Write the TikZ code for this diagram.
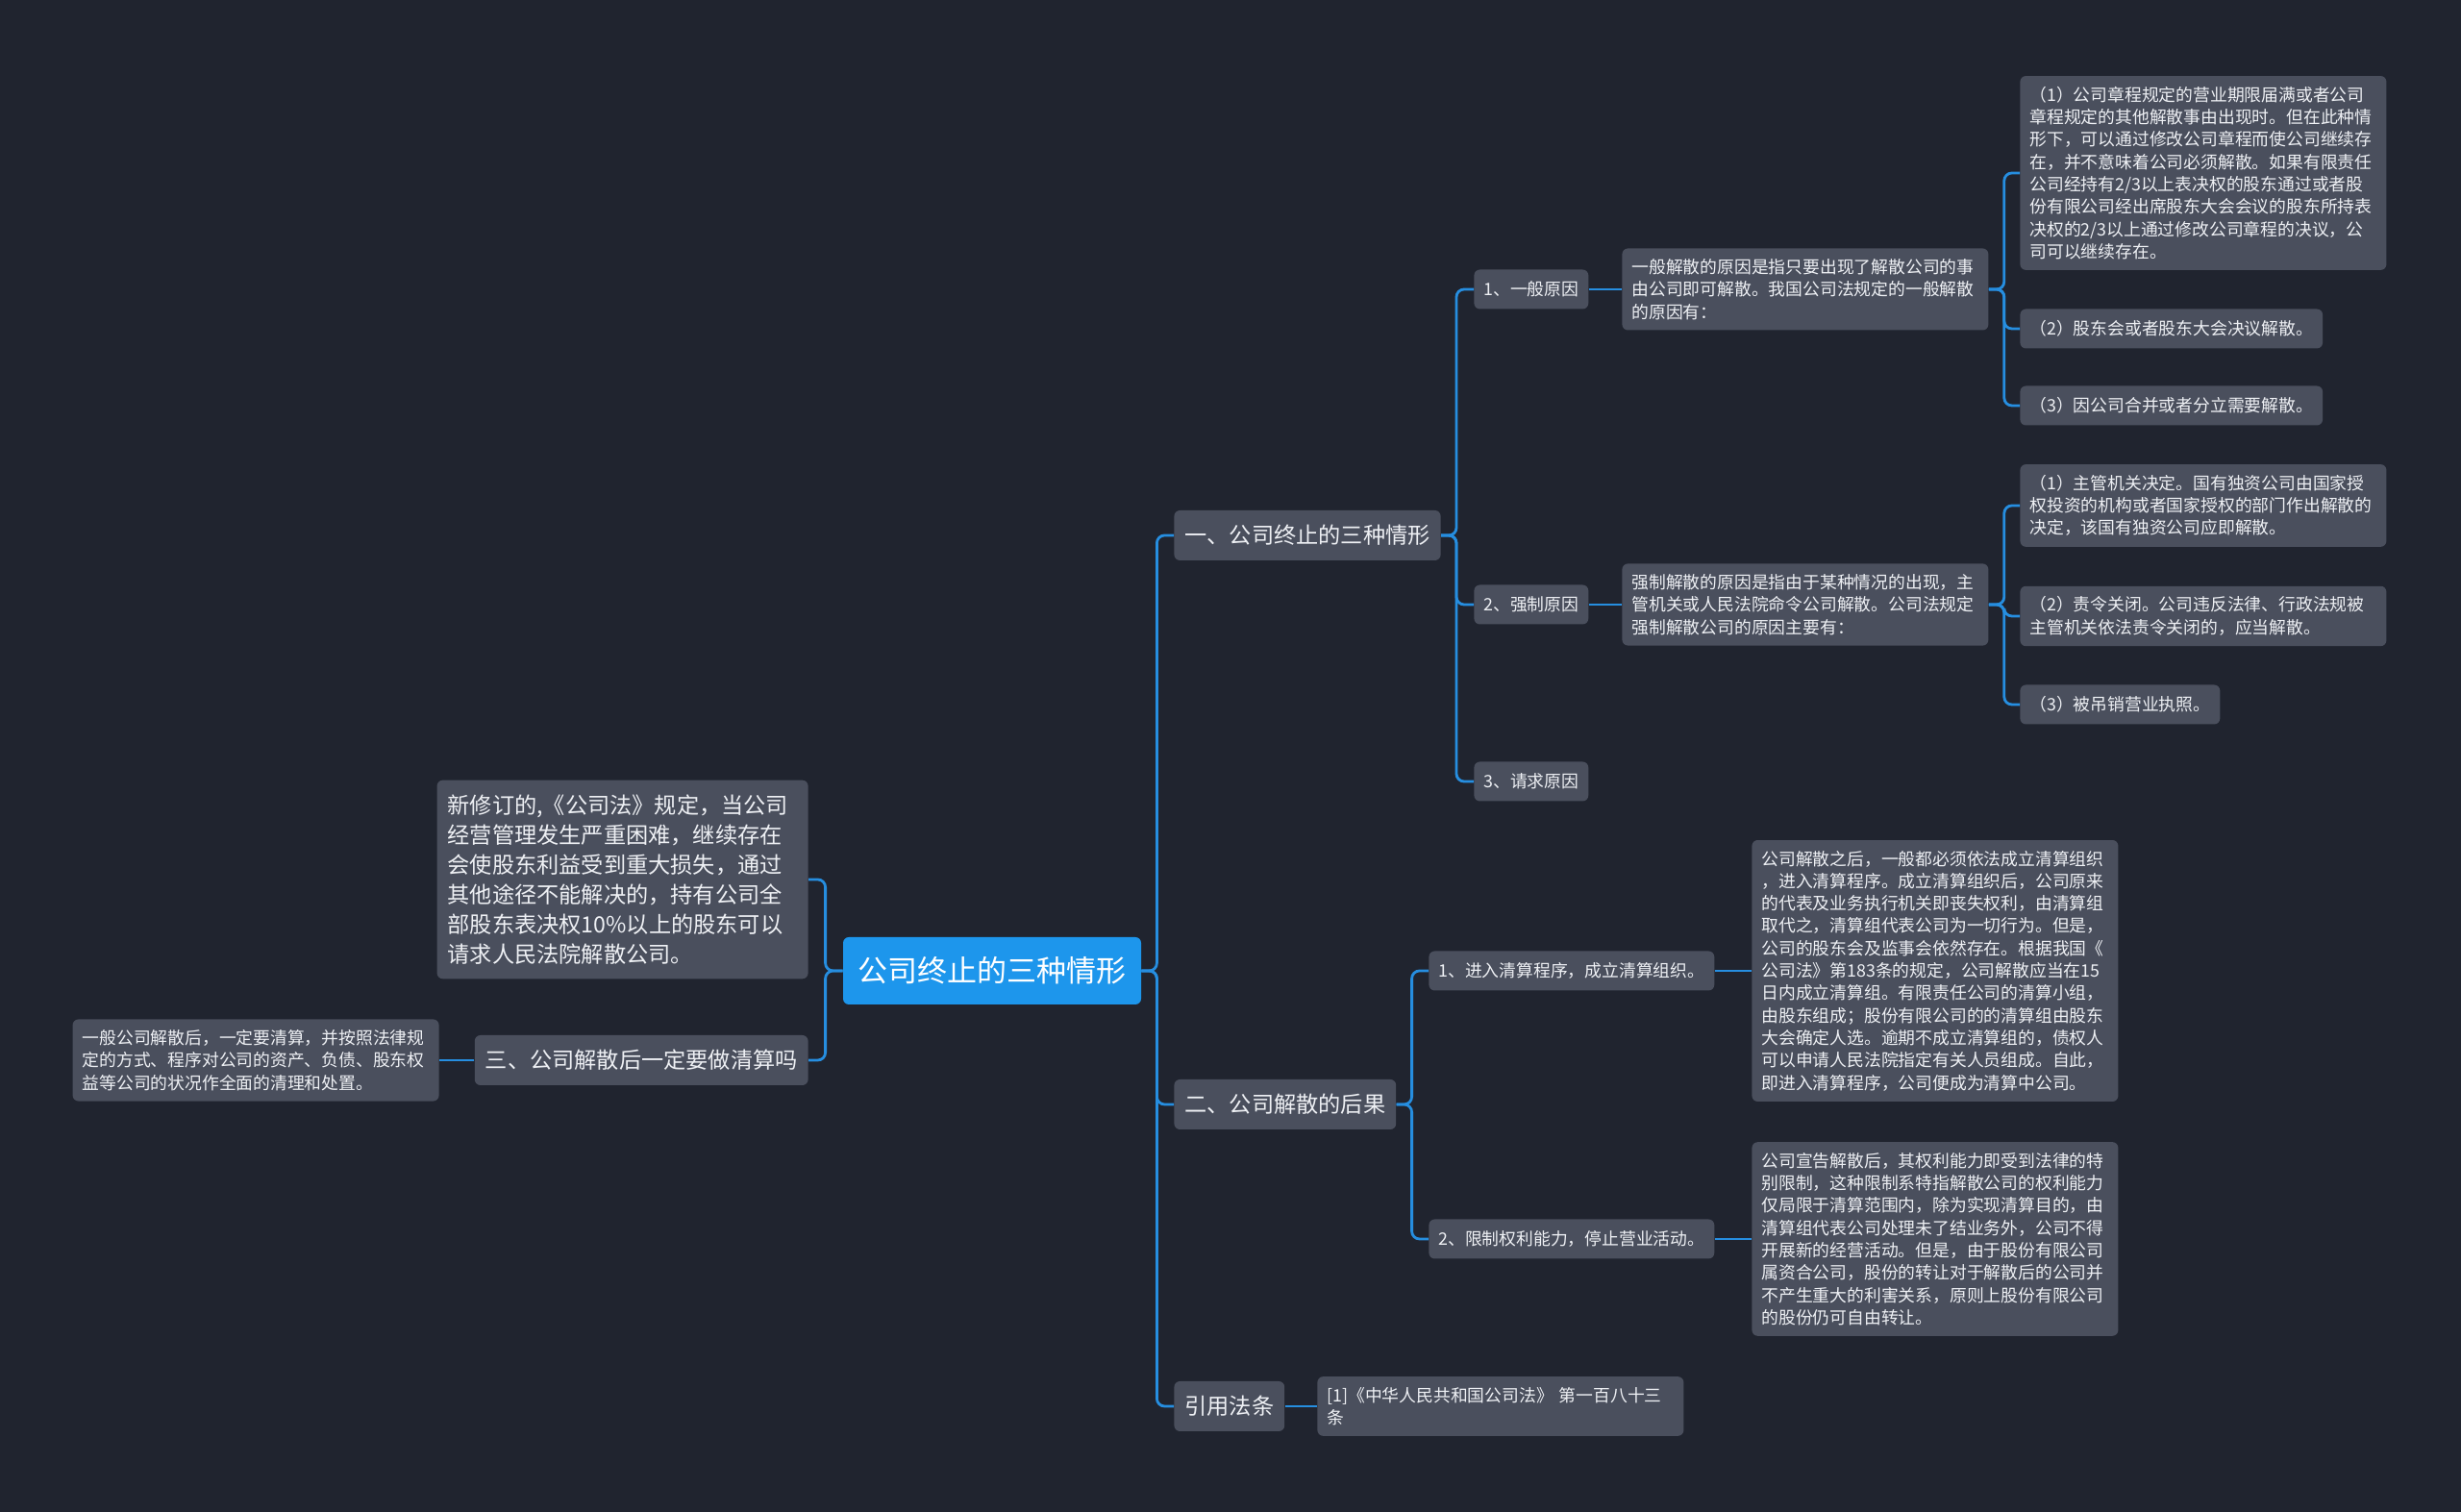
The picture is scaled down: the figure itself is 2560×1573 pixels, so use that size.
\documentclass[tikz,border=0pt]{standalone}
\usepackage{fontspec}
\setmainfont{Noto Sans CJK SC}
\usepackage{xcolor}
\usepackage{tikz}
\usetikzlibrary{positioning}
\definecolor{MapBack}{RGB}{32, 36, 47}
\definecolor{MapNode}{RGB}{74, 79, 93}
\definecolor{MapRoot}{RGB}{29, 150, 236}
\definecolor{MapLine}{RGB}{38, 142, 224}
\definecolor{MapText}{RGB}{238, 240, 244}

\begin{document}
\begin{tikzpicture}[x=0.5pt,y=0.5pt,
  box/.style={fill=MapNode, rounded corners=3pt, text=MapText, inner xsep=5pt, inner ysep=5.5pt,
    font=\fontsize{8.9}{11.65}\selectfont},
  note/.style={box, align=left, text width=180.5pt},
  sub/.style={box, minimum height=20.5pt},
  topic/.style={box, inner xsep=5.5pt, minimum height=26pt, font=\fontsize{11.6}{15.5}\selectfont},
  rootbox/.style={box, fill=MapRoot, text=white, inner xsep=7.75pt, minimum height=35pt,
    font=\fontsize{15.5}{18}\selectfont},
  link/.style={MapLine, line width=1.4pt, rounded corners=4pt}]
  \path[use as bounding box] (0,0) rectangle (2560,1573);
  \fill[MapBack] (0,0) rectangle (2560,1573);

  % centre
  \node[rootbox] (root) at (1032,563) {公司终止的三种情形};

  % right branches
  \node[topic, anchor=west] (one) at (1221,1016) {一、公司终止的三种情形};
  \node[topic, anchor=west] (two) at (1221,424) {二、公司解散的后果};
  \node[topic, anchor=west] (law) at (1221,110) {引用法条};

  % left branches
  \node[topic, anchor=east, align=left, text width=182pt, inner ysep=7.5pt] (newlaw) at (841,658)
    {新修订的,《公司法》规定，当公司\\经营管理发生严重困难，继续存在\\会使股东利益受到重大损失，通过\\其他途径不能解决的，持有公司全\\部股东表决权10\%以上的股东可以\\请求人民法院解散公司。};
  \node[topic, anchor=east] (three) at (841,470) {三、公司解散后一定要做清算吗};
  \node[note, anchor=east] (liquid) at (457,470)
    {一般公司解散后，一定要清算，并按照法律规\\定的方式、程序对公司的资产、负债、股东权\\益等公司的状况作全面的清理和处置。};

  % 一
  \node[sub, anchor=west] (gen) at (1533,1272) {1、一般原因};
  \node[sub, anchor=west] (force) at (1533,944) {2、强制原因};
  \node[sub, anchor=west] (ask) at (1533,760) {3、请求原因};
  \node[note, anchor=west] (genTxt) at (1687,1272)
    {一般解散的原因是指只要出现了解散公司的事\\由公司即可解散。我国公司法规定的一般解散\\的原因有：};
  \node[note, anchor=west] (forceTxt) at (1687,944)
    {强制解散的原因是指由于某种情况的出现，主\\管机关或人民法院命令公司解散。公司法规定\\强制解散公司的原因主要有：};
  \node[note, anchor=west] (g1) at (2101,1393)
    {（1）公司章程规定的营业期限届满或者公司\\章程规定的其他解散事由出现时。但在此种情\\形下，可以通过修改公司章程而使公司继续存\\在，并不意味着公司必须解散。如果有限责任\\公司经持有2/3以上表决权的股东通过或者股\\份有限公司经出席股东大会会议的股东所持表\\决权的2/3以上通过修改公司章程的决议，公\\司可以继续存在。};
  \node[sub, anchor=west] (g2) at (2101,1231) {（2）股东会或者股东大会决议解散。};
  \node[sub, anchor=west] (g3) at (2101,1151) {（3）因公司合并或者分立需要解散。};
  \node[note, anchor=west] (f1) at (2101,1047)
    {（1）主管机关决定。国有独资公司由国家授\\权投资的机构或者国家授权的部门作出解散的\\决定，该国有独资公司应即解散。};
  \node[note, anchor=west] (f2) at (2101,932)
    {（2）责令关闭。公司违反法律、行政法规被\\主管机关依法责令关闭的，应当解散。};
  \node[sub, anchor=west] (f3) at (2101,840) {（3）被吊销营业执照。};

  % 二
  \node[sub, anchor=west] (clear) at (1486,563) {1、进入清算程序，成立清算组织。};
  \node[sub, anchor=west] (limit) at (1486,284) {2、限制权利能力，停止营业活动。};
  \node[note, anchor=west] (clearTxt) at (1822,563)
    {公司解散之后，一般都必须依法成立清算组织\\，进入清算程序。成立清算组织后，公司原来\\的代表及业务执行机关即丧失权利，由清算组\\取代之，清算组代表公司为一切行为。但是，\\公司的股东会及监事会依然存在。根据我国《\\公司法》第183条的规定，公司解散应当在15\\日内成立清算组。有限责任公司的清算小组，\\由股东组成；股份有限公司的的清算组由股东\\大会确定人选。逾期不成立清算组的，债权人\\可以申请人民法院指定有关人员组成。自此，\\即进入清算程序，公司便成为清算中公司。};
  \node[note, anchor=west] (limitTxt) at (1822,284)
    {公司宣告解散后，其权利能力即受到法律的特\\别限制，这种限制系特指解散公司的权利能力\\仅局限于清算范围内，除为实现清算目的，由\\清算组代表公司处理未了结业务外，公司不得\\开展新的经营活动。但是，由于股份有限公司\\属资合公司，股份的转让对于解散后的公司并\\不产生重大的利害关系，原则上股份有限公司\\的股份仍可自由转让。};

  % 引用法条
  \node[note, anchor=west] (lawTxt) at (1370,110) {[1]《中华人民共和国公司法》 第一百八十三\\条};

  % connectors
  \foreach \c in {one,two,law}{
    \draw[link] (root.east) -- ++(16,0) |- (\c.west);
  }
  \foreach \c in {newlaw,three}{
    \draw[link] (root.west) -- ++(-18,0) |- (\c.east);
  }
  \draw[link] (three) -- (liquid);
  \foreach \c in {gen,force,ask}{
    \draw[link] (one.east) -- ++(16,0) |- (\c.west);
  }
  \draw[link] (gen) -- (genTxt);
  \draw[link] (force) -- (forceTxt);
  \foreach \c in {g1,g2,g3}{
    \draw[link] (genTxt.east) -- ++(16,0) |- (\c.west);
  }
  \foreach \c in {f1,f2,f3}{
    \draw[link] (forceTxt.east) -- ++(16,0) |- (\c.west);
  }
  \foreach \c in {clear,limit}{
    \draw[link] (two.east) -- ++(16,0) |- (\c.west);
  }
  \draw[link] (clear) -- (clearTxt);
  \draw[link] (limit) -- (limitTxt);
  \draw[link] (law) -- (lawTxt);
\end{tikzpicture}
\end{document}
